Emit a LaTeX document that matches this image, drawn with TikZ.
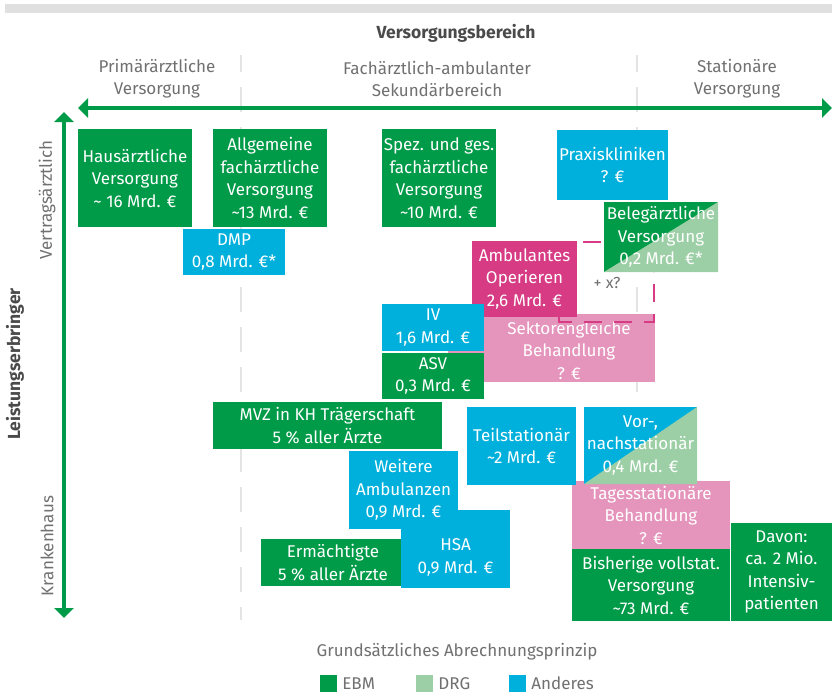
\documentclass[tikz,border=0pt]{standalone}
\usepackage{fontspec}
\setmainfont{Fira Sans}
\usetikzlibrary{arrows.meta}
\definecolor{ebm}{HTML}{009B48}
\definecolor{drg}{HTML}{9CCFA6}
\definecolor{anderes}{HTML}{00B0DC}
\definecolor{opmag}{HTML}{D63B84}
\definecolor{sekpink}{HTML}{E594BB}
\definecolor{txtgray}{HTML}{707070}
\definecolor{darkgray2}{HTML}{4A4A4A}
\definecolor{divgray}{HTML}{E4E4E4}
\definecolor{bargray}{HTML}{E0E0E0}
\newcommand\boxfont{\fontsize{17}{22.5}\selectfont}
\newcommand\lblfont{\fontsize{17}{22}\selectfont}
\begin{document}
\begin{tikzpicture}[x=1pt,y=-1pt,
  box/.style={rectangle, inner sep=0pt, outer sep=0pt, align=center, text=white, font=\boxfont},
  boxtext/.style={inner sep=0pt, align=center, text=white, font=\boxfont},
  split/.style={path picture={\fill[drg] (path picture bounding box.south west) -- (path picture bounding box.north east) -- (path picture bounding box.south east) -- cycle;}},
  hdr/.style={align=center, text=txtgray, font=\lblfont, inner sep=0pt},
  boldlbl/.style={text=darkgray2, font=\fontsize{17.5}{21}\selectfont\bfseries, inner sep=0pt},
  axis/.style={draw=ebm, line width=4pt, {Triangle[width=19pt,length=10pt]}-{Triangle[width=19pt,length=10pt]}},
  divider/.style={draw=divgray, line width=2pt, dash pattern=on 25pt off 15pt, dash phase=8pt},
  magdash/.style={draw=opmag, line width=1.8pt},
  legsq/.style={rectangle, inner sep=0pt, minimum width=17pt, minimum height=17pt}]
\useasboundingbox (0,0) rectangle (832,697);
% top bar
\fill[bargray] (5,4) rectangle (832,13);
% dividers
\coordinate (d1t) at (241,55); \coordinate (d1b) at (241,620);
\coordinate (d2t) at (637,55); \coordinate (d2b) at (637,620);
\draw[divider] (d1t) -- (d1b);
\draw[divider] (d2t) -- (d2b);
% headings
\node[boldlbl] (vb) at (456,33) {Versorgungsbereich};
\node[hdr] (h1) at (157,78.5) {Primärärztliche\\Versorgung};
\node[hdr] (h2) at (437,78.5) {Fachärztlich-ambulanter\\Sekundärbereich};
\node[hdr] (h3) at (737,78.5) {Stationäre\\Versorgung};
% axes
\coordinate (hl) at (78,108); \coordinate (hr) at (832,108);
\coordinate (vt) at (64,112); \coordinate (vbt) at (64,618);
\draw[axis] (hl) -- (hr);
\draw[axis] (vt) -- (vbt);
\node[hdr, rotate=90] (vert) at (47,200) {Vertragsärztlich};
\node[hdr, rotate=90] (kh) at (47,546) {Krankenhaus};
\node[boldlbl, rotate=90] (le) at (15,364) {Leistungserbringer};
% boxes
\node[box, fill=ebm, minimum width=114pt, minimum height=98pt] (haus) at (135,178) {Hausärztliche\\Versorgung\\\textasciitilde{} 16 Mrd. €};
\node[box, fill=ebm, minimum width=114pt, minimum height=98pt] (allg) at (270,178) {Allgemeine\\fachärztliche\\Versorgung\\\textasciitilde 13 Mrd. €};
\node[box, fill=ebm, minimum width=114pt, minimum height=98pt] (spez) at (439,178) {Spez. und ges.\\fachärztliche\\Versorgung\\\textasciitilde 10 Mrd. €};
\node[box, fill=anderes, minimum width=102pt, minimum height=46pt] (dmp) at (234,252) {DMP\\0,8 Mrd. €*};
\node[box, fill=anderes, minimum width=111pt, minimum height=70pt] (praxis) at (612.5,165) {Praxiskliniken\\? €};
\node[box, fill=ebm, split, minimum width=114pt, minimum height=70pt] (beleg) at (661,237) {Belegärztliche\\Versorgung\\0,2 Mrd. €*};
\node[box, fill=sekpink, minimum width=207pt, minimum height=68pt] (sekt) at (551.5,348) {};
\node[boxtext] (sektt) at (569,350) {Sektorengleiche\\Behandlung\\? €};
\node[box, fill=opmag, minimum width=105pt, minimum height=76pt] (amb) at (524.5,279) {Ambulantes\\Operieren\\2,6 Mrd. €};
\node[box, fill=anderes, minimum width=102pt, minimum height=47pt] (iv) at (433,327.5) {IV\\1,6 Mrd. €};
\node[box, fill=ebm, minimum width=102pt, minimum height=46pt] (asv) at (433,376) {ASV\\0,3 Mrd. €};
% dashed magenta links
\coordinate (b1) at (559,0); \coordinate (b2) at (654,0); \coordinate (by) at (0,322);
\draw[magdash, dash pattern=on 0pt off 6pt on 18pt off 10pt] ([yshift=-1pt]amb.north east) -- ([yshift=-1pt]amb.north east -| beleg.west);
\draw[magdash, dash pattern=on 18pt off 12pt] (amb.south -| b1) -- (b1 |- by) -- (b2 |- by) -- (beleg.south -| b2);
\node[hdr, font=\fontsize{16}{20}\selectfont] (plusx) at (607,283) {+ x?};
% lower boxes
\node[box, fill=ebm, minimum width=229pt, minimum height=47pt] (mvz) at (327.5,425.5) {MVZ in KH Trägerschaft\\5 \% aller Ärzte};
\node[box, fill=sekpink, minimum width=158pt, minimum height=68pt] (tages) at (651,515) {Tagesstationäre\\Behandlung\\? €};
\node[box, fill=anderes, minimum width=109pt, minimum height=78pt] (teil) at (521.5,446) {Teilstationär\\\textasciitilde 2 Mrd. €};
\node[box, fill=anderes, split, minimum width=113pt, minimum height=77pt] (vor) at (640.5,445.5) {Vor-,\\nachstationär\\0,4 Mrd. €};
\node[box, fill=ebm, minimum width=144pt, minimum height=47pt] (erm) at (333,562.5) {Ermächtigte\\5 \% aller Ärzte};
\node[box, fill=anderes, minimum width=109pt, minimum height=78pt] (hsa) at (455.5,549) {};
\node[box, fill=anderes, minimum width=109pt, minimum height=78pt] (weit) at (403.5,490) {Weitere\\Ambulanzen\\0,9 Mrd. €};
\node[boxtext] (hsat) at (455.5,557.5) {HSA\\0,9 Mrd. €};
\node[box, fill=ebm, minimum width=158pt, minimum height=72pt] (bish) at (651,585) {Bisherige vollstat.\\Versorgung\\\textasciitilde 73 Mrd. €};
\node[box, fill=ebm, minimum width=101pt, minimum height=98pt] (davon) at (781.5,572) {Davon:\\ca. 2 Mio.\\Intensiv-\\patienten};
% legend
\node[hdr] (legt) at (457,652) {Grundsätzliches Abrechnungsprinzip};
\node[legsq, fill=ebm] (sq1) at (328.5,683.5) {};
\node[hdr, anchor=west] (l1) at ([xshift=5pt]sq1.east) {EBM};
\node[legsq, fill=drg] (sq2) at (424.5,683.5) {};
\node[hdr, anchor=west] (l2) at ([xshift=5pt]sq2.east) {DRG};
\node[legsq, fill=anderes] (sq3) at (517.5,683.5) {};
\node[hdr, anchor=west] (l3) at ([xshift=5pt]sq3.east) {Anderes};
\end{tikzpicture}
\end{document}
